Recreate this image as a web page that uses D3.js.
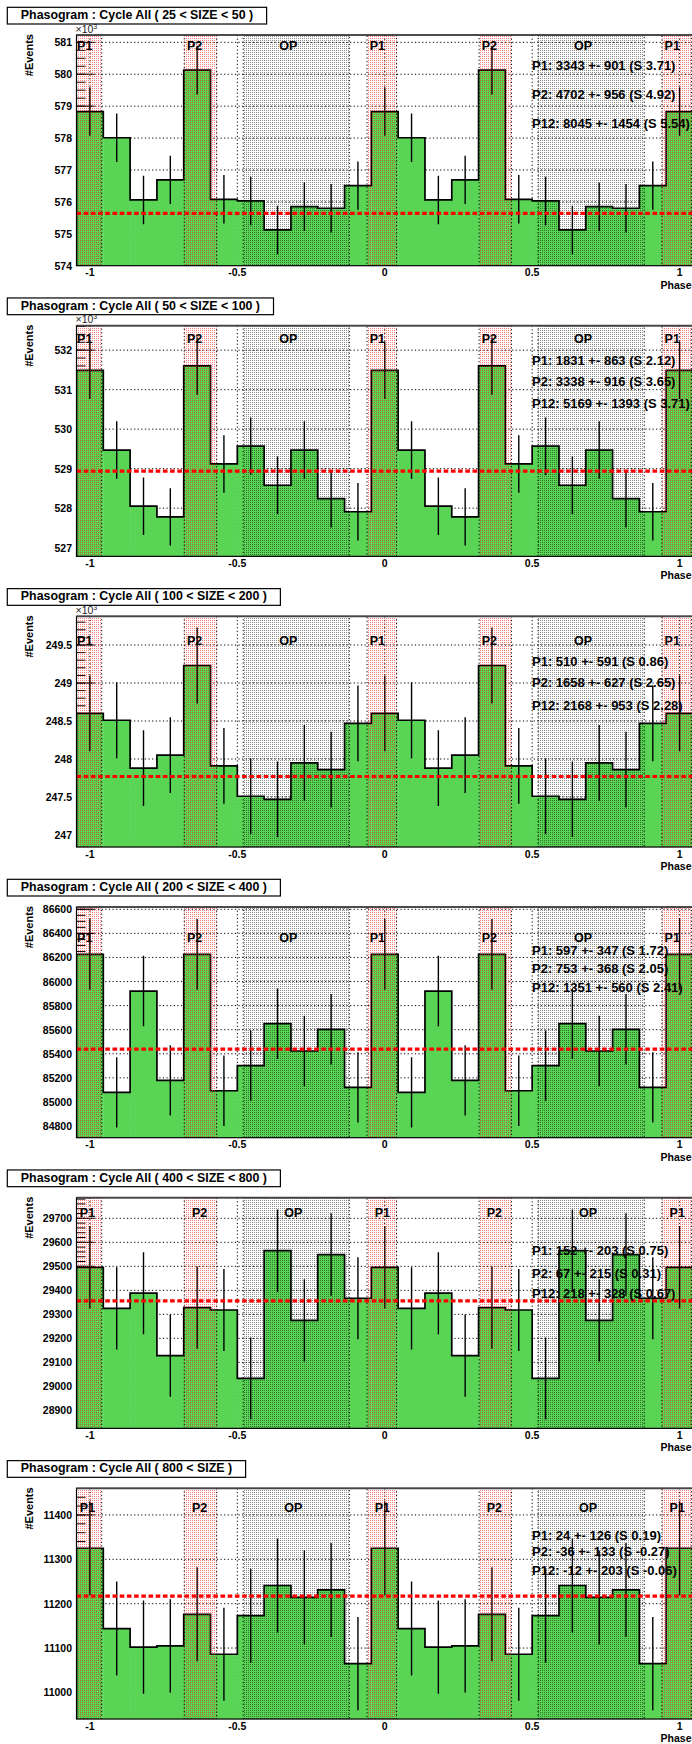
<!DOCTYPE html>
<html>
<head>
<meta charset="utf-8">
<script src="https://cdn.jsdelivr.net/npm/d3@7"></script>
<style>
  html, body { margin: 0; padding: 0; background: #fff; overflow: hidden; }
  svg { display: block; font-family: "Liberation Sans", Arial, Helvetica, sans-serif; }
</style>
</head>
<body>
<svg id="canvas" width="692" height="1744"></svg>
<script>
// ---- data -------------------------------------------------------------
// 11 phase bins per cycle (bin centres at 0, 1/11, ... 10/11); the phasogram
// repeats them over two cycles from phase -1 to 1.
const sizeCuts = ["25 < SIZE < 50", "50 < SIZE < 100", "100 < SIZE < 200",
                  "200 < SIZE < 400", "400 < SIZE < 800", "800 < SIZE"];

const countsSize25 = [578830, 578010, 576060, 576690, 580130, 576080, 576030, 575120, 575850, 575800, 576510];
const errorsSize25 = [761, 760, 759, 759, 762, 759, 759, 758, 759, 759, 759];

const countsSize50 = [531490, 529470, 528050, 527780, 531600, 529120, 529570, 528580, 529470, 528240, 527910];
const errorsSize50 = [729, 728, 727, 726, 729, 727, 728, 727, 728, 727, 727];

const countsSize100 = [248600, 248510, 247880, 248050, 249230, 247910, 247510, 247470, 247950, 247860, 248470];
const errorsSize100 = [499, 499, 498, 498, 499, 498, 497, 497, 498, 498, 498];

const countsSize200 = [86226, 85079, 85921, 85179, 86226, 85093, 85301, 85650, 85423, 85603, 85121];
const errorsSize200 = [294, 292, 293, 292, 294, 292, 292, 293, 292, 293, 292];

const countsSize400 = [29496, 29325, 29388, 29128, 29328, 29318, 29033, 29565, 29275, 29549, 29367];
const errorsSize400 = [172, 171, 171, 171, 171, 171, 170, 172, 171, 172, 171];

const countsSize800 = [11325, 11144, 11102, 11105, 11176, 11086, 11173, 11241, 11214, 11231, 11065];
const errorsSize800 = [106, 106, 105, 105, 106, 105, 106, 106, 106, 106, 105];

// off-pulse (OP) mean level per panel
const offPulseLevels = [575640, 528940, 247770, 85439, 29356, 11217];

// y-axis range per panel (raw counts)
const yRanges = [[574000, 581230], [526780, 532620], [246842, 249877],
                 [84703, 86619], [28825, 29786], [10940, 11460]];

// labelled y ticks (in displayed units) and the factor they are shown in
const yTicksSize25  = [574, 575, 576, 577, 578, 579, 580, 581];
const yTicksSize50  = [527, 528, 529, 530, 531, 532];
const yTicksSize100 = [247, 247.5, 248, 248.5, 249, 249.5];
const yTicksSize200 = [84800, 85000, 85200, 85400, 85600, 85800, 86000, 86200, 86400, 86600];
const yTicksSize400 = [28900, 29000, 29100, 29200, 29300, 29400, 29500, 29600, 29700];
const yTicksSize800 = [11000, 11100, 11200, 11300, 11400];
const yTickFactors  = [1000, 1000, 1000, 1, 1, 1];
const yMinorSteps   = [250, 200, 100, 50, 20, 20];

const xTicks = [-1, -0.5, 0, 0.5, 1];
const xTickLabels = ["-1", "-0.5", "0", "0.5", "1"];

// phase regions
const regionNames  = ["P1", "P2", "OP"];
const regionStarts = [-0.06, 0.32, 0.52];
const regionEnds   = [0.04, 0.43, 0.88];

// excess summaries
const statsSize25  = ["P1: 3343 +- 901 (S 3.71)", "P2: 4702 +- 956 (S 4.92)", "P12: 8045 +- 1454 (S 5.54)"];
const statsSize50  = ["P1: 1831 +- 863 (S 2.12)", "P2: 3338 +- 916 (S 3.65)", "P12: 5169 +- 1393 (S 3.71)"];
const statsSize100 = ["P1: 510 +- 591 (S 0.86)", "P2: 1658 +- 627 (S 2.65)", "P12: 2168 +- 953 (S 2.28)"];
const statsSize200 = ["P1: 597 +- 347 (S 1.72)", "P2: 753 +- 368 (S 2.05)", "P12: 1351 +- 560 (S 2.41)"];
const statsSize400 = ["P1: 152 +- 203 (S 0.75)", "P2: 67 +- 215 (S 0.31)", "P12: 218 +- 328 (S 0.67)"];
const statsSize800 = ["P1: 24 +- 126 (S 0.19)", "P2: -36 +- 133 (S -0.27)", "P12: -12 +- 203 (S -0.06)"];

// ---- layout -----------------------------------------------------------
const padHeight = 1744 / 6;
const frameTopOffset = 35, frameBottomOffset = 265.7;
const statOffsets = [[30.7, 59.3, 88.3], [35.3, 56, 77.6], [44.7, 66, 88.7],
                     [43, 61.3, 80.3], [53, 75.6, 96.3], [46.7, 63.4, 82.4]];
const regionLabelOffsets = [11, 13.7, 24.7, 31.3, 15, 20];
const regionLabelShift = [0, 0, 0, 0, 5, 5];
const regionLabelPhase = [-0.051, 0.329, 0.642];

const panels = [
  { counts: countsSize25,  errors: errorsSize25,  ticks: yTicksSize25,  stats: statsSize25 },
  { counts: countsSize50,  errors: errorsSize50,  ticks: yTicksSize50,  stats: statsSize50 },
  { counts: countsSize100, errors: errorsSize100, ticks: yTicksSize100, stats: statsSize100 },
  { counts: countsSize200, errors: errorsSize200, ticks: yTicksSize200, stats: statsSize200 },
  { counts: countsSize400, errors: errorsSize400, ticks: yTicksSize400, stats: statsSize400 },
  { counts: countsSize800, errors: errorsSize800, ticks: yTicksSize800, stats: statsSize800 }
];

const GREEN = "#59d454";
const svg = d3.select("#canvas");
svg.append("rect").attr("width", 692).attr("height", 1744).attr("fill", "#fff");

const defs = svg.append("defs");
function dotPattern(id, color, opacity) {
  const p = defs.append("pattern").attr("id", id)
    .attr("width", 2).attr("height", 2).attr("patternUnits", "userSpaceOnUse");
  p.append("rect").attr("width", 1).attr("height", 1)
    .attr("fill", color).attr("fill-opacity", opacity);
}
dotPattern("dotsRed", "#ff0000", 0.5);
dotPattern("dotsGrey", "#000000", 0.45);
const regionFill = ["url(#dotsRed)", "url(#dotsRed)", "url(#dotsGrey)"];

const nb = 11;
const x = d3.scaleLinear().domain([-1 - 0.5 / nb, 1 + 0.5 / nb]).range([76.5, 693]);
const [xL, xR] = x.range();

// bins over two cycles: index k = -11 .. 11
const binIndex = d3.range(-nb, nb + 1);
const wrap = k => ((k % nb) + nb) % nb;

panels.forEach((p, i) => {
  const padTop = i * padHeight;
  const top = padTop + frameTopOffset, bottom = padTop + frameBottomOffset;
  const y = d3.scaleLinear().domain(yRanges[i]).range([bottom, top]);
  const factor = yTickFactors[i];
  const g = svg.append("g");

  defs.append("clipPath").attr("id", "frame" + i)
    .append("rect").attr("x", xL).attr("y", top).attr("width", xR - xL).attr("height", bottom - top);
  const plot = g.append("g").attr("clip-path", `url(#frame${i})`);

  // grid
  plot.selectAll(".hgrid").data(p.ticks).join("line")
    .attr("x1", xL).attr("x2", xR)
    .attr("y1", d => y(d * factor)).attr("y2", d => y(d * factor))
    .attr("stroke", "#000").attr("stroke-width", 1).attr("stroke-dasharray", "1.2,2.4");
  plot.selectAll(".vgrid").data(xTicks).join("line")
    .attr("x1", d => x(d)).attr("x2", d => x(d))
    .attr("y1", top).attr("y2", bottom)
    .attr("stroke", "#000").attr("stroke-width", 1).attr("stroke-dasharray", "1.2,2.4");

  // y axis ticks (drawn inward, under the histogram)
  const minor = d3.range(Math.ceil(yRanges[i][0] / yMinorSteps[i]) * yMinorSteps[i], yRanges[i][1], yMinorSteps[i]);
  plot.selectAll(".ymin").data(minor).join("line")
    .attr("x1", xL).attr("x2", xL + 9)
    .attr("y1", d => y(d)).attr("y2", d => y(d))
    .attr("stroke", "#000").attr("stroke-width", 1);
  plot.selectAll(".ymaj").data(p.ticks).join("line")
    .attr("x1", xL).attr("x2", xL + 18)
    .attr("y1", d => y(d * factor)).attr("y2", d => y(d * factor))
    .attr("stroke", "#000").attr("stroke-width", 1);

  // histogram fill
  const bins = binIndex.map(k => ({
    k, lo: (k - 0.5) / nb, hi: (k + 0.5) / nb, c: k / nb,
    v: p.counts[wrap(k)], e: p.errors[wrap(k)]
  }));
  plot.selectAll(".bin").data(bins).join("rect")
    .attr("x", d => x(d.lo)).attr("width", d => x(d.hi) - x(d.lo) + 0.3)
    .attr("y", d => y(d.v)).attr("height", d => bottom - y(d.v))
    .attr("fill", GREEN);

  // histogram outline
  let path = `M${x(bins[0].lo)},${bottom}`;
  bins.forEach(d => { path += `V${y(d.v)}H${x(d.hi)}`; });
  path += `V${bottom}`;
  plot.append("path").attr("d", path).attr("fill", "none")
    .attr("stroke", "#000").attr("stroke-width", 1.7);

  // error bars
  plot.selectAll(".err").data(bins).join("line")
    .attr("x1", d => x(d.c)).attr("x2", d => x(d.c))
    .attr("y1", d => y(d.v - d.e)).attr("y2", d => y(d.v + d.e))
    .attr("stroke", "#000").attr("stroke-width", 1.4);

  // phase regions
  const regions = [];
  [-1, 0, 1].forEach(cy => regionNames.forEach((n, r) =>
    regions.push({ r, a: cy + regionStarts[r], b: cy + regionEnds[r], cy })));
  plot.selectAll(".region").data(regions).join("rect")
    .attr("x", d => x(d.a)).attr("width", d => x(d.b) - x(d.a))
    .attr("y", top).attr("height", bottom - top)
    .attr("fill", d => regionFill[d.r])
    .attr("stroke", "#000").attr("stroke-width", 1).attr("stroke-dasharray", "1.2,2.4");

  // off-pulse level
  plot.append("line").attr("x1", xL).attr("x2", xR)
    .attr("y1", y(offPulseLevels[i])).attr("y2", y(offPulseLevels[i]))
    .attr("stroke", "#ff0000").attr("stroke-width", 3.2).attr("stroke-dasharray", "4.6,2.6");

  // frame
  g.append("rect").attr("x", xL).attr("y", top).attr("width", xR - xL).attr("height", bottom - top)
    .attr("fill", "none").attr("stroke", "#000").attr("stroke-width", 1.2);
  g.append("line").attr("x1", xL).attr("x2", xR).attr("y1", top).attr("y2", top)
    .attr("stroke", "#444").attr("stroke-width", 1.6);

  // region labels (only those that start inside the frame)
  const visibleLabels = regions.filter(d => x(d.cy + regionLabelPhase[d.r]) < xR - 20);
  g.selectAll(".rlabel").data(visibleLabels).join("text")
    .attr("x", d => Math.max(xL + 0.6, x(d.cy + regionLabelPhase[d.r]) + regionLabelShift[i]))
    .attr("y", top + regionLabelOffsets[i])
    .attr("dominant-baseline", "central")
    .attr("font-size", 12.5).attr("font-weight", "bold").attr("fill", "#000")
    .text(d => regionNames[d.r]);

  // excess summaries
  g.selectAll(".stat").data(p.stats).join("text")
    .attr("x", 532).attr("y", (d, j) => top + statOffsets[i][j])
    .attr("dominant-baseline", "central")
    .attr("font-size", 13).attr("font-weight", "bold").attr("fill", "#000")
    .text(d => d);

  // y tick labels
  g.selectAll(".ylab").data(p.ticks).join("text")
    .attr("x", 72).attr("y", d => y(d * factor))
    .attr("text-anchor", "end").attr("dominant-baseline", "central")
    .attr("font-size", 10.5).attr("font-weight", "bold")
    .text(d => String(d));

  if (factor === 1000) {
    const e = g.append("text").attr("x", 75.5).attr("y", top - 2.5)
      .attr("font-size", 10.5).attr("fill", "#222");
    e.append("tspan").text("\u00d710");
    e.append("tspan").attr("font-size", 7).attr("dy", -4).text("3");
  }

  // y axis title
  g.append("text")
    .attr("transform", `translate(32.7,${top - 1}) rotate(-90)`)
    .attr("text-anchor", "end")
    .attr("font-size", 11).attr("font-weight", "bold")
    .text("#Events");

  // x tick labels and title
  g.selectAll(".xlab").data(xTicks).join("text")
    .attr("x", d => x(d)).attr("y", bottom + 10.5)
    .attr("text-anchor", "middle")
    .attr("font-size", 10.5).attr("font-weight", "bold")
    .text((d, j) => xTickLabels[j]);
  g.append("text").attr("x", 691.5).attr("y", bottom + 22.8)
    .attr("text-anchor", "end")
    .attr("font-size", 10.5).attr("font-weight", "bold")
    .text("Phase");

  // title box
  const tg = g.append("g");
  const box = tg.append("rect").attr("x", 7.3).attr("y", padTop + 7.3).attr("height", 16.7)
    .attr("fill", "#fff").attr("stroke", "#000").attr("stroke-width", 1.2);
  const tt = tg.append("text").attr("x", 20.8).attr("y", padTop + 19)
    .attr("font-size", 12.4).attr("font-weight", "bold")
    .text(`Phasogram : Cycle All ( ${sizeCuts[i]} )`);
  box.attr("width", tt.node().getComputedTextLength() + 27);
});
</script>
</body>
</html>
